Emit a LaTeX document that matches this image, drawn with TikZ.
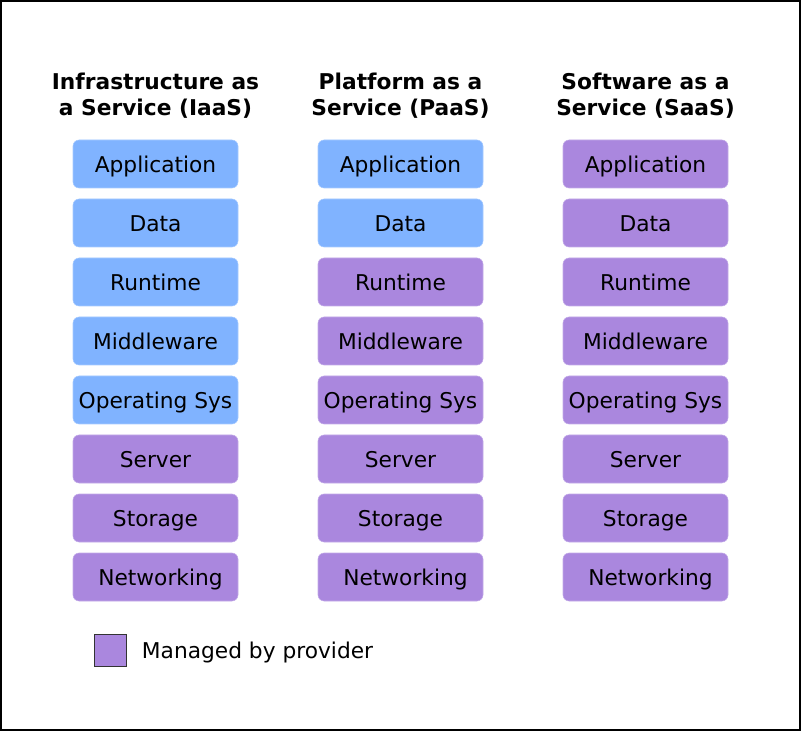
\documentclass[tikz,border=0pt]{standalone}
\usepackage{fontspec}
\setmainfont{DejaVu Sans}
\usetikzlibrary{positioning}
\definecolor{custblue}{HTML}{80B3FF}
\definecolor{provpurple}{HTML}{AA87DE}
\tikzset{
  layer/.style={rounded corners=4.5pt, minimum width=123.75pt, minimum height=36pt,
    inner sep=0pt, text height=12.2pt, text depth=0pt,
    draw=#1!70!white, line width=0.4pt, fill=#1,
    font=\fontsize{16.3}{19}\selectfont},
  coltitle/.style={align=center, inner sep=0pt, font=\fontsize{16.3}{19.5}\selectfont\bfseries}
}

\begin{document}
\begin{tikzpicture}[x=0.75pt,y=-0.75pt]
        \useasboundingbox (0,0) rectangle (801,731);
        \draw[line width=1.5pt] (1,1) rectangle (800,730);

        % column titles
        \node[coltitle] (iaas-title) at (155.5,96) {Infrastructure as\\a Service (IaaS)};
        \node[coltitle] (paas-title) at (400.5,96) {Platform as a\\Service (PaaS)};
        \node[coltitle] (saas-title) at (645.5,96) {Software as a\\Service (SaaS)};

        % layers, blue = managed by customer
        \foreach \col/\cx/\nblue in {iaas/155.5/5, paas/400.5/2, saas/645.5/0}
            \foreach \lay [count=\i] in {Application, Data, Runtime, Middleware,
                    Operating Sys, Server, Storage, {\hspace{7.5pt}Networking}} {
                \ifnum\i>\nblue \def\fillc{provpurple}\else\def\fillc{custblue}\fi
                \node[layer=\fillc] (\col-\i) at (\cx, 105+59*\i) {\lay};
            }

        % legend
        \node[draw=black!80, line width=0.75pt, fill=provpurple, minimum size=24pt,
            inner sep=0pt] (legendbox) at (110.5,650) {};
        \node[right=11pt of legendbox, inner sep=0pt, text height=12.2pt, text depth=0pt,
            font=\fontsize{16.3}{19}\selectfont] (legendtext) {Managed by provider};
\end{tikzpicture}
\end{document}
